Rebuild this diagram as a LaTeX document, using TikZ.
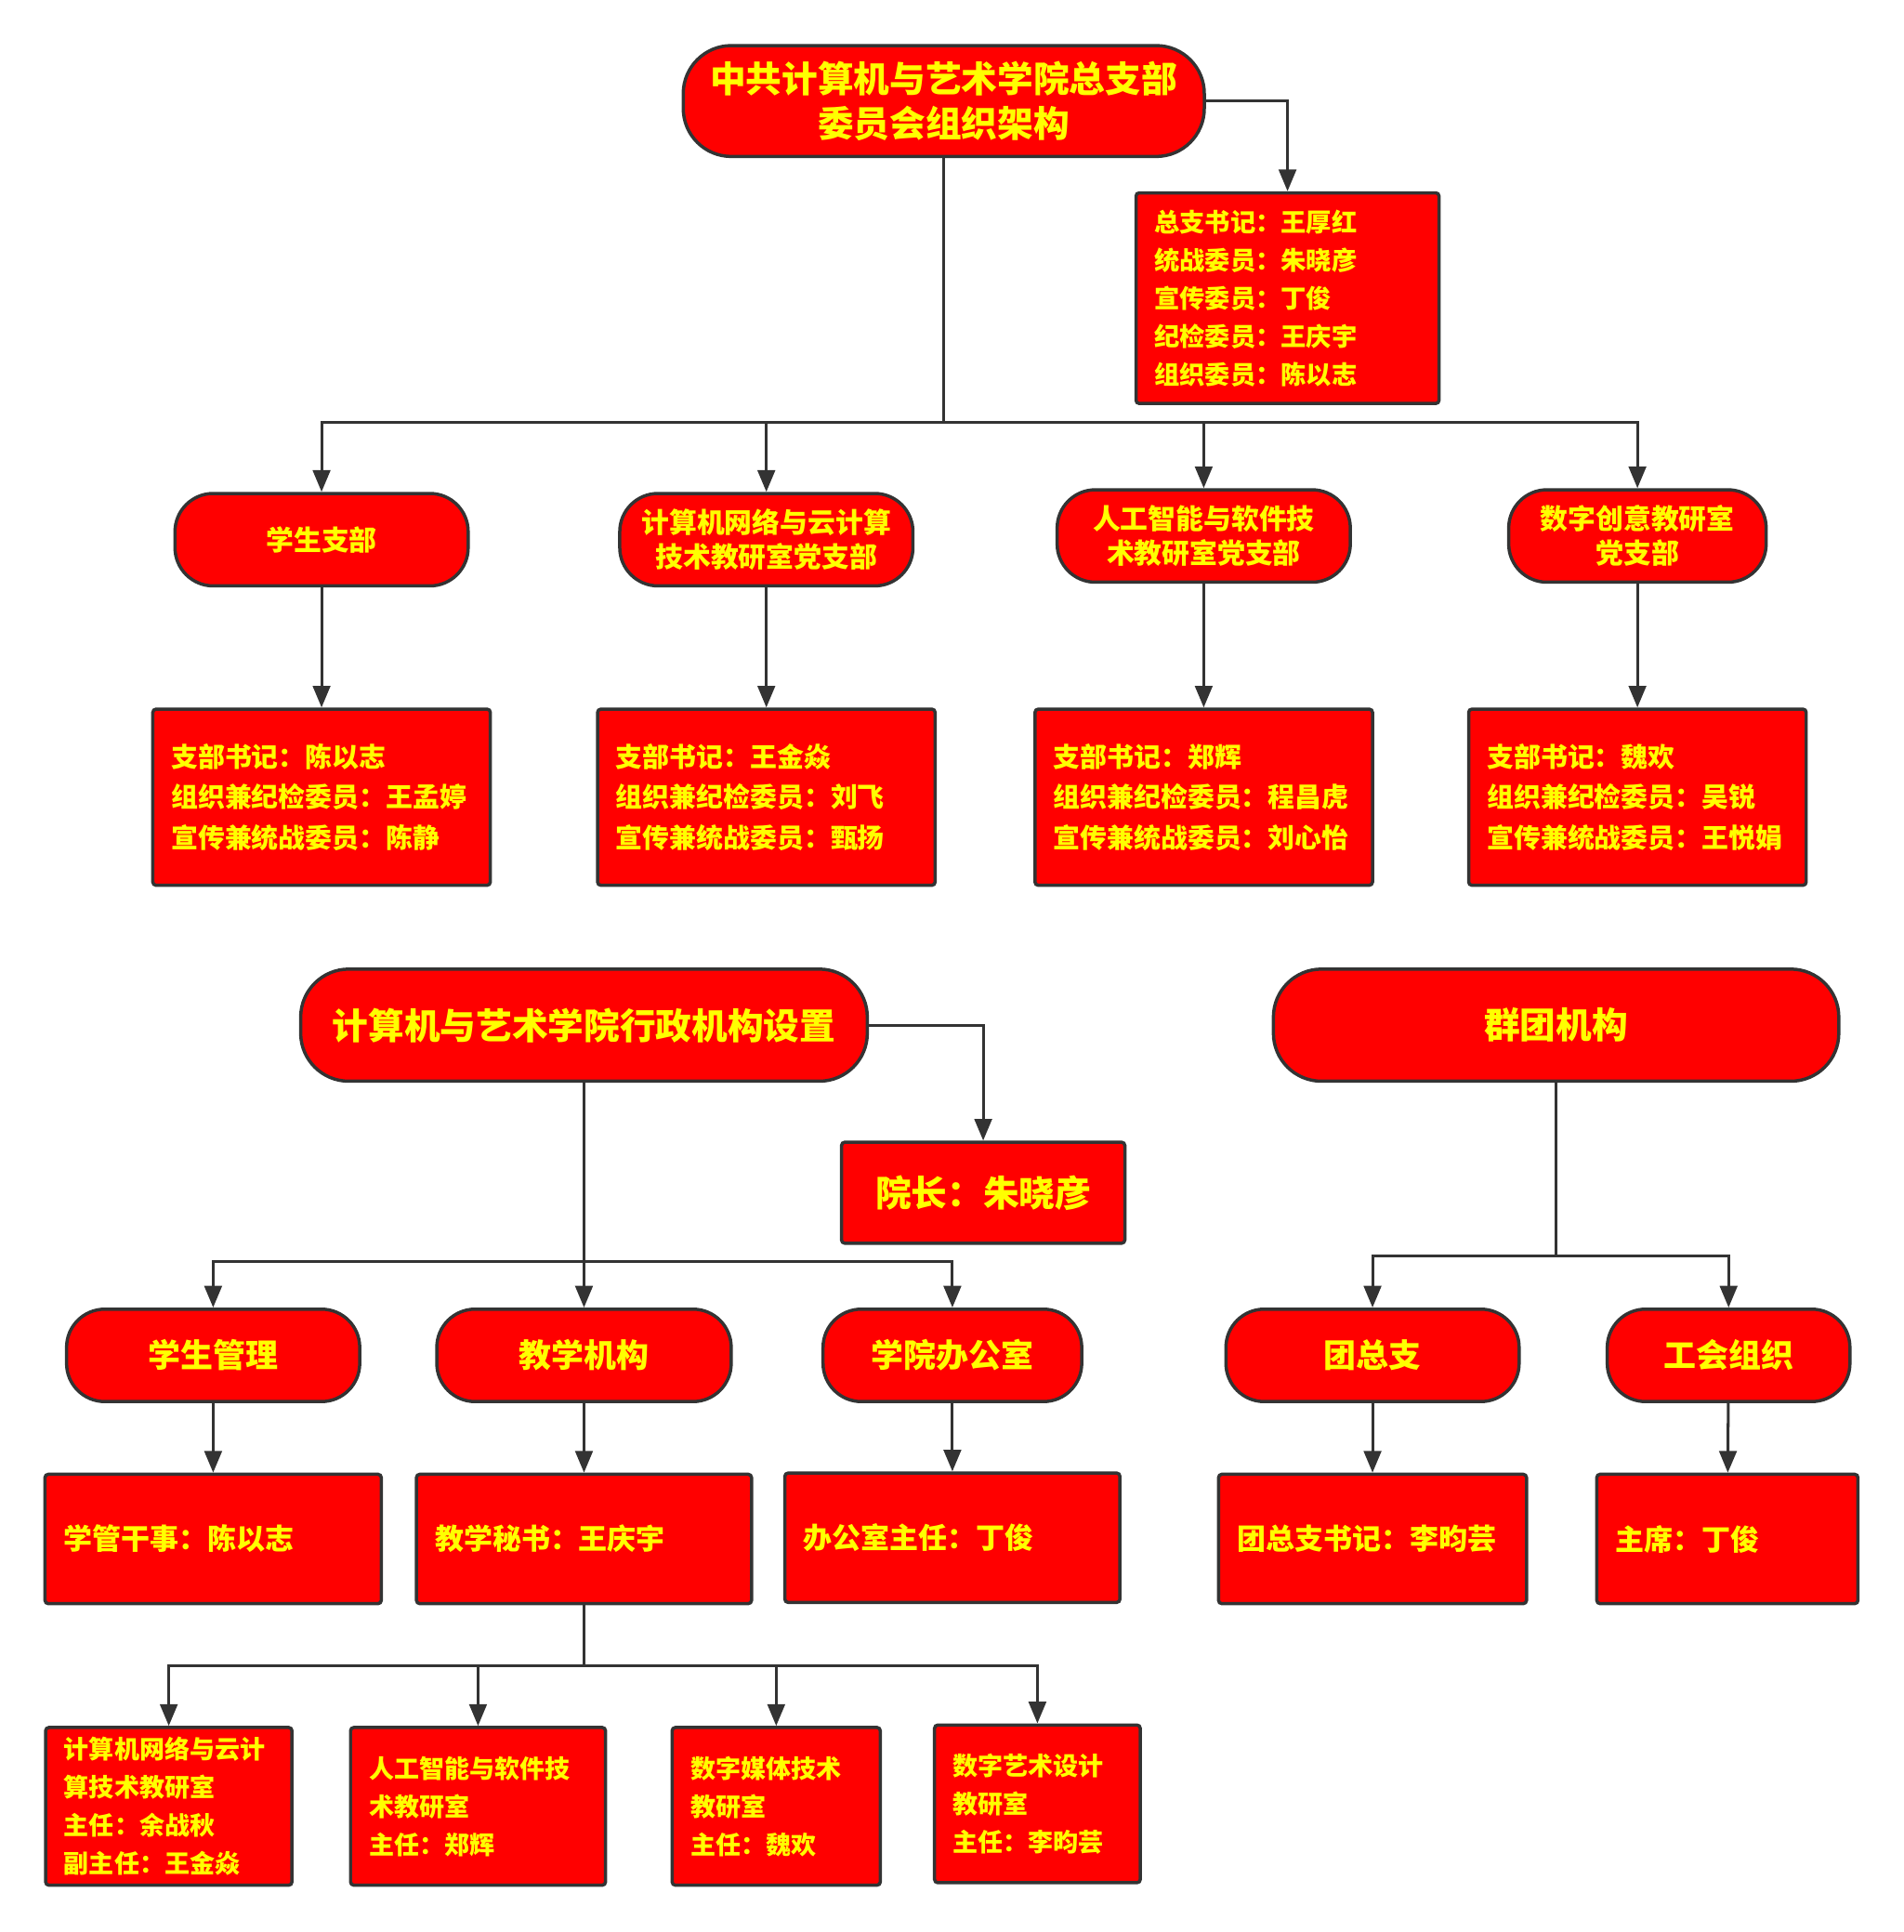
\documentclass[tikz,border=0pt]{standalone}
\usepackage{fontspec}
\newfontfamily\cjk{Noto Sans CJK SC}[BoldFont={Noto Sans CJK SC Black}]
\usepackage{tikz}
\usetikzlibrary{arrows.meta}

\definecolor{boxred}{HTML}{FF0000}
\definecolor{textyellow}{HTML}{FFFF00}
\definecolor{edgegray}{HTML}{333333}

\begin{document}
\begin{tikzpicture}[x=0.02cm,y=-0.02cm,
                    link/.style={draw=edgegray,line width=1.3pt},
                    arrow link/.style={link,-{Triangle[length=10pt,width=8pt]}},
                    head node/.style={rectangle,draw=edgegray,line width=1.5pt,fill=boxred,
                      text=textyellow,align=center,inner sep=0pt,minimum height=1.5cm,
                      rounded corners=0.62cm},
                    big head/.style={head node,minimum height=1.8cm,rounded corners=0.78cm,
                      font=\cjk\bfseries\fontsize{16.6}{20.5}\selectfont},
                    info node/.style={rectangle,draw=edgegray,line width=1.5pt,fill=boxred,
                      text=textyellow,align=left,inner xsep=0.3cm,inner ysep=0pt,
                      rounded corners=1.5pt}]

  \useasboundingbox (0,0) rectangle (1545,1568);

  % party committee
  \node[big head,minimum width=8.46cm] (1) at (766,82) {中共计算机与艺术学院总支部\\委员会组织架构};
  \node[info node,text width=4.32cm,minimum height=3.42cm,
        font=\cjk\bfseries\fontsize{11.7}{17.6}\selectfont] (2) at (1045,242)
    {总支书记：王厚红\\统战委员：朱晓彦\\宣传委员：丁俊\\纪检委员：王庆宇\\组织委员：陈以志};

  \begin{scope}[every node/.append style={font=\cjk\bfseries\fontsize{12.8}{16}\selectfont}]
    \node[head node,minimum width=4.76cm] (3) at (261,438) {学生支部};
    \node[head node,minimum width=4.76cm] (4) at (622,438) {计算机网络与云计算\\技术教研室党支部};
    \node[head node,minimum width=4.76cm] (5) at (977,435) {人工智能与软件技\\术教研室党支部};
    \node[head node,minimum width=4.18cm] (6) at (1329,435) {数字创意教研室\\党支部};
  \end{scope}

  \begin{scope}[every node/.append style={info node,text width=4.88cm,minimum height=2.86cm,
                font=\cjk\bfseries\fontsize{12.4}{18.8}\selectfont}]
    \node (7) at (261,647) {支部书记：陈以志\\组织兼纪检委员：王孟婷\\宣传兼统战委员：陈静};
    \node (8) at (622,647) {支部书记：王金焱\\组织兼纪检委员：刘飞\\宣传兼统战委员：甄扬};
    \node (9) at (977,647) {支部书记：郑辉\\组织兼纪检委员：程昌虎\\宣传兼统战委员：刘心怡};
    \node (10) at (1329,647) {支部书记：魏欢\\组织兼纪检委员：吴锐\\宣传兼统战委员：王悦娟};
  \end{scope}

  % administration and mass organisations
  \node[big head,minimum width=9.2cm,minimum height=1.82cm] (11) at (474,832) {计算机与艺术学院行政机构设置};
  \node[big head,minimum width=9.18cm,minimum height=1.82cm] (12) at (1263,832) {群团机构};
  \node[info node,align=center,minimum width=4.6cm,minimum height=1.64cm,
        font=\cjk\bfseries\fontsize{16.6}{20}\selectfont] (13) at (798,968) {院长：朱晓彦};

  \begin{scope}[every node/.append style={font=\cjk\bfseries\fontsize{15}{18}\selectfont}]
    \node[head node,minimum width=4.76cm] (14) at (173,1100) {学生管理};
    \node[head node,minimum width=4.78cm] (15) at (474,1100) {教学机构};
    \node[head node,minimum width=4.2cm] (16) at (773,1100) {学院办公室};
    \node[head node,minimum width=4.76cm] (17) at (1114,1100) {团总支};
    \node[head node,minimum width=3.94cm] (18) at (1403,1100) {工会组织};
  \end{scope}

  \begin{scope}[every node/.append style={info node,minimum height=2.1cm,
                font=\cjk\bfseries\fontsize{13.3}{16}\selectfont}]
    \node[text width=4.86cm] (19) at (173,1249) {学管干事：陈以志};
    \node[text width=4.84cm] (20) at (474,1249) {教学秘书：王庆宇};
    \node[text width=4.84cm] (21) at (773,1248) {办公室主任：丁俊};
    \node[text width=4.4cm] (22) at (1114,1249) {团总支书记：李昀芸};
    \node[text width=3.64cm] (23) at (1402,1249) {主席：丁俊};
  \end{scope}

  \begin{scope}[every node/.append style={info node,minimum height=2.56cm,
                font=\cjk\bfseries\fontsize{11.6}{17.6}\selectfont}]
    \node[text width=3.4cm] (24) at (137,1466) {计算机网络与云计\\算技术教研室\\主任：余战秋\\副主任：王金焱};
    \node[text width=3.54cm] (25) at (388,1466) {人工智能与软件技\\术教研室\\主任：郑辉};
    \node[text width=2.78cm] (26) at (630,1466) {数字媒体技术\\教研室\\主任：魏欢};
    \node[text width=2.74cm] (27) at (842,1464) {数字艺术设计\\教研室\\主任：李昀芸};
  \end{scope}

  % connectors
  \coordinate (t1) at (766,343);
  \coordinate (t2) at (474,1024);
  \coordinate (t3) at (1263,1019);
  \coordinate (t4) at (474,1352);

  \draw[arrow link] (1.east) -| (2.north);
  \draw[link] (1) -- (t1);
  \foreach \n in {3,4,5,6}
    \draw[arrow link] (t1) -| (\n.north);
  \foreach \a/\b in {3/7,4/8,5/9,6/10}
    \draw[arrow link] (\a) -- (\b);

  \draw[arrow link] (11.east) -| (13.north);
  \draw[link] (11) -- (t2);
  \foreach \n in {14,15,16}
    \draw[arrow link] (t2) -| (\n.north);
  \draw[link] (12) -- (t3);
  \foreach \n in {17,18}
    \draw[arrow link] (t3) -| (\n.north);
  \foreach \a/\b in {14/19,15/20,16/21,17/22,18/23}
    \draw[arrow link] (\a) -- (\b);

  \draw[link] (20) -- (t4);
  \foreach \n in {24,25,26,27}
    \draw[arrow link] (t4) -| (\n.north);
\end{tikzpicture}
\end{document}
